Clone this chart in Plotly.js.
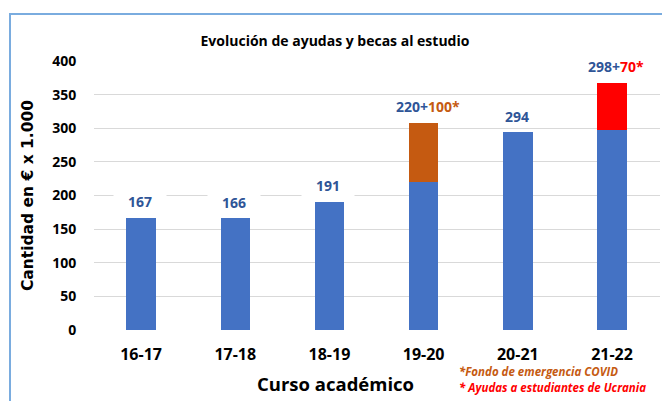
<!DOCTYPE html>
<html>
<head>
<meta charset="utf-8">
<script src="https://cdn.plot.ly/plotly-3.0.1.min.js"></script>
<style>
  html, body { margin: 0; padding: 0; background: #ffffff; }
  #wrap { position: relative; width: 662px; height: 401px; overflow: hidden; }
  #chart { position: absolute; left: 0; top: 0; width: 662px; height: 401px; }
  #frame { position: absolute; left: 9px; top: 13px; width: 700px; height: 450px;
           border-left: 2px solid #7AACDF; border-top: 2px solid #7AACDF; pointer-events: none; }
</style>
</head>
<body>
<div id="wrap">
  <div id="chart"></div>
  <div id="frame"></div>
</div>
<script>
// ---- data ----
const categories   = ["16-17", "17-18", "18-19", "19-20", "20-21", "21-22"];
const baseValues   = [167, 166, 191, 220, 294, 298];   // regular aid (blue)
const extraValues  = [0, 0, 0, 88, 0, 70];              // extra funds as drawn (stacked)
const baseLabels   = ["167", "166", "191", "220+", "294", "298+"];
const extraLabels  = ["", "", "", "100*", "", "70*"];
const yTicks       = [0, 50, 100, 150, 200, 250, 300, 350, 400];
const footnotes    = ["*Fondo de emergencia COVID", "* Ayudas a estudiantes de Ucrania"];

const BLUE = "#4472C4", ORANGE = "#C55A11", RED = "#FF0000", LABEL_BLUE = "#2F5597";
const extraColors = extraValues.map((v, i) => i === 3 ? ORANGE : RED);
const extraLabelColors = extraColors;
const FONT = "Open Sans, Noto Sans, sans-serif";

const traces = [
  { type: "bar", x: categories, y: baseValues, marker: { color: BLUE }, hoverinfo: "skip", showlegend: false },
  { type: "bar", x: categories, y: extraValues, marker: { color: extraColors }, hoverinfo: "skip", showlegend: false }
];

const annotations = categories.map((c, i) => {
  const total = baseValues[i] + extraValues[i];
  let txt = '<span style="color:' + LABEL_BLUE + '">' + baseLabels[i] + '</span>';
  if (extraLabels[i]) txt += '<span style="color:' + extraLabelColors[i] + '">' + extraLabels[i] + '</span>';
  return {
    x: c, y: total, xref: "x", yref: "y", text: txt, showarrow: false,
    yanchor: "middle", yshift: 16, xshift: extraLabels[i] ? 4 : -1,
    font: { family: FONT, size: 14, color: LABEL_BLUE, weight: "bold" },
    bgcolor: "#ffffff", borderpad: 1, width: extraLabels[i] ? 84 : 50
  };
});

footnotes.forEach((t, k) => {
  annotations.push({
    xref: "paper", yref: "paper", x: 0.642, y: k === 0 ? -0.155 : -0.2145,
    xanchor: "left", yanchor: "middle", showarrow: false,
    text: "<b><i>" + t + "</i></b>",
    font: { family: FONT, size: 11.5, color: k === 0 ? ORANGE : RED }
  });
});

// x-axis title, centred on the page like the reference
annotations.push({
  xref: "paper", yref: "paper", x: 0.4258, y: -0.2,
  xanchor: "center", yanchor: "middle", showarrow: false,
  text: "<b>Curso académico</b>",
  font: { family: FONT, size: 18.5, color: "#000000" }
});

const layout = {
  width: 662, height: 401,
  margin: { l: 94, r: 2, t: 61, b: 71, pad: 0 },
  paper_bgcolor: "#ffffff", plot_bgcolor: "#ffffff",
  barmode: "stack", bargap: 0.687,
  title: {
    text: "<b>Evolución de ayudas y becas al estudio</b>",
    xref: "container", yref: "container", x: 0.506, y: 0.898,
    xanchor: "center", yanchor: "middle",
    font: { family: FONT, size: 14, color: "#000000" }
  },
  xaxis: {
    type: "category", showgrid: false, showline: false, zeroline: false,
    ticks: "outside", ticklen: 10, tickcolor: "rgba(0,0,0,0)",
    tickfont: { family: FONT, size: 16, color: "#000000", weight: "bold" }
  },
  yaxis: {
    range: [0, 400], tickvals: yTicks, ticktext: yTicks.map(String),
    showgrid: true, gridcolor: "#D9D9D9", gridwidth: 1,
    showline: false, zeroline: false,
    ticks: "outside", ticklen: 14, tickcolor: "rgba(0,0,0,0)",
    tickfont: { family: FONT, size: 14, color: "#000000", weight: "bold" },
    title: { text: "<b>Cantidad en € x 1.000</b>", standoff: 14,
             font: { family: "DejaVu Sans, Verdana, sans-serif", size: 15.5, color: "#000000" } }
  },
  annotations: annotations
};

Plotly.newPlot("chart", traces, layout, { staticPlot: true, displayModeBar: false });
</script>
</body>
</html>
